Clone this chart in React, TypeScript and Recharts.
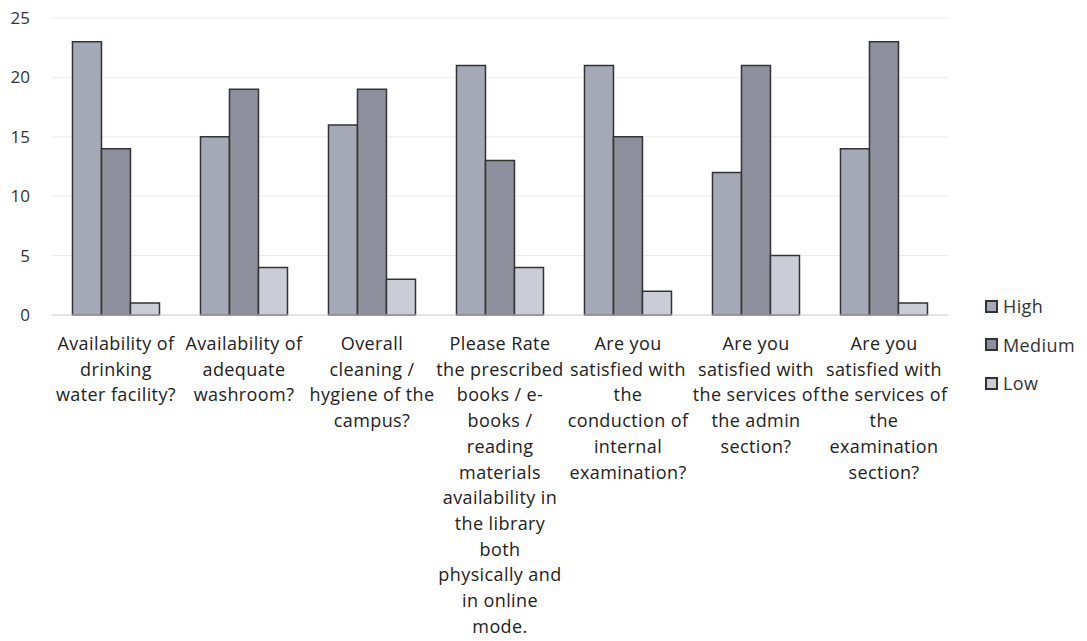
import React from 'react';
import { BarChart, Bar, XAxis, YAxis, CartesianGrid } from 'recharts';

// Survey questions (x categories)
const categories = [
  'Availability of drinking water facility?',
  'Availability of adequate washroom?',
  'Overall cleaning / hygiene of the campus?',
  'Please Rate the prescribed books / e-books / reading materials availability in the library both physically and in online mode.',
  'Are you satisfied with the conduction of internal examination?',
  'Are you satisfied with the services of the admin section?',
  'Are you satisfied with the services of the examination section?',
];

// How the tick labels wrap in the original
const tickLines = [
  ['Availability of', 'drinking', 'water facility?'],
  ['Availability of', 'adequate', 'washroom?'],
  ['Overall', 'cleaning /', 'hygiene of the', 'campus?'],
  ['Please Rate', 'the prescribed', 'books / e-', 'books /', 'reading', 'materials', 'availability in', 'the library', 'both', 'physically and', 'in online', 'mode.'],
  ['Are you', 'satisfied with', 'the', 'conduction of', 'internal', 'examination?'],
  ['Are you', 'satisfied with', 'the services of', 'the admin', 'section?'],
  ['Are you', 'satisfied with', 'the services of', 'the', 'examination', 'section?'],
];

const highValues = [23, 15, 16, 21, 21, 12, 14];
const mediumValues = [14, 19, 19, 13, 15, 21, 23];
const lowValues = [1, 4, 3, 4, 2, 5, 1];

const yTicks = [0, 5, 10, 15, 20, 25];

const colors = {
  high: '#a5a9b7',
  medium: '#8d909c',
  low: '#cbccd6',
};

const FONT = '"Open Sans", Lato, sans-serif';

const data = categories.map((name, i) => ({
  name,
  High: highValues[i],
  Medium: mediumValues[i],
  Low: lowValues[i],
}));

const CategoryTick = (props: any) => {
  const { x, y, payload } = props;
  const idx = categories.indexOf(payload.value);
  const lines = tickLines[idx] || [payload.value];
  return (
    <text
      x={x}
      y={y}
      textAnchor="middle"
      fill="#222"
      fontSize={18}
      letterSpacing={0.4}
      fontFamily={FONT}
    >
      {lines.map((line, i) => (
        <tspan key={i} x={x} dy={i === 0 ? 35 : 25.7}>
          {line}
        </tspan>
      ))}
    </text>
  );
};

const legendItems = [
  { label: 'High', color: colors.high },
  { label: 'Medium', color: colors.medium },
  { label: 'Low', color: colors.low },
];

export default function App() {
  return (
    <div style={{ position: 'absolute', left: 0, top: 0, width: 1087, height: 641, background: '#fff' }}>
      <BarChart
        width={1087}
        height={641}
        data={data}
        margin={{ top: 18, right: 139, bottom: 0, left: 0 }}
        barGap={0}
        barCategoryGap="16%"
      >
        <CartesianGrid vertical={false} stroke="#ececec" />
        <XAxis
          dataKey="name"
          interval={0}
          height={326}
          tickLine={false}
          tickSize={0}
          tickMargin={0}
          axisLine={{ stroke: '#d4d4d4' }}
          tick={<CategoryTick />}
        />
        <YAxis
          width={52}
          domain={[0, 25]}
          ticks={yTicks}
          axisLine={false}
          tickLine={false}
          tickSize={0}
          tickMargin={22}
          tick={{ fill: '#333', fontSize: 17, fontFamily: FONT }}
        />
        <Bar dataKey="High" fill={colors.high} stroke="#333" strokeWidth={1.5} isAnimationActive={false} />
        <Bar dataKey="Medium" fill={colors.medium} stroke="#333" strokeWidth={1.5} isAnimationActive={false} />
        <Bar dataKey="Low" fill={colors.low} stroke="#333" strokeWidth={1.5} isAnimationActive={false} />
      </BarChart>
      {/* legend sits right of the plot, level with the axis */}
      <div
        style={{
          position: 'absolute',
          left: 985,
          top: 287,
          fontFamily: FONT,
          fontSize: 18,
          letterSpacing: 0.4,
          color: '#333',
        }}
      >
        {legendItems.map(item => (
          <div key={item.label} style={{ display: 'flex', alignItems: 'center', height: 38.5 }}>
            <span
              style={{
                display: 'inline-block',
                width: 9,
                height: 9,
                border: '2px solid #333',
                background: item.color,
                marginRight: 5,
              }}
            />
            {item.label}
          </div>
        ))}
      </div>
    </div>
  );
}
